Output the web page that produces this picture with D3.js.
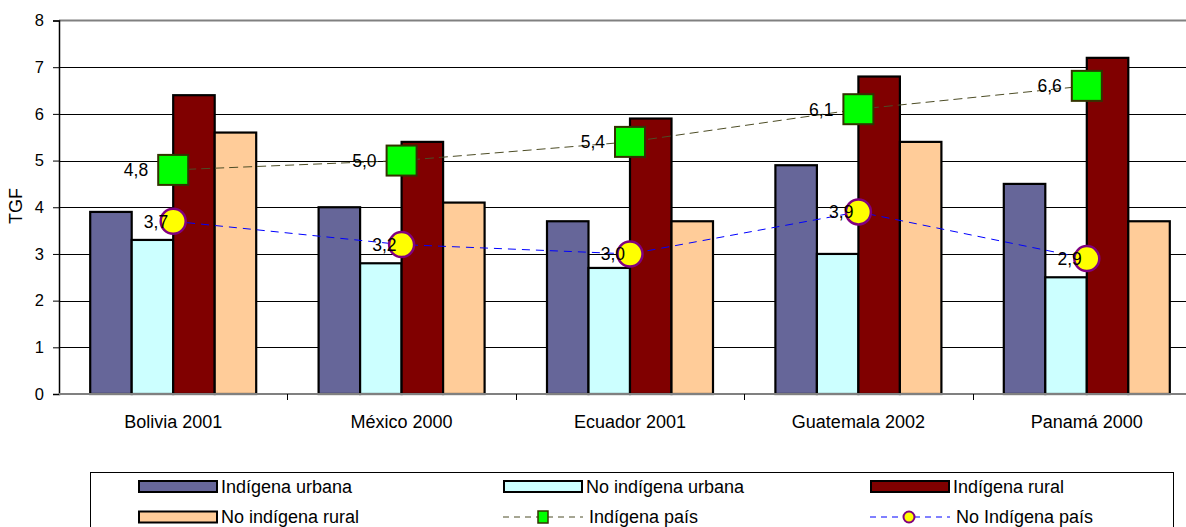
<!DOCTYPE html>
<html>
<head>
<meta charset="utf-8">
<script src="https://cdn.jsdelivr.net/npm/d3@7"></script>
<style>
  html, body { margin: 0; padding: 0; background: #fff; }
  svg { display: block; font-family: "Liberation Sans", Arial, sans-serif; }
</style>
</head>
<body>
<svg id="chart" width="1186" height="527"></svg>
<script>
// Tasa global de fecundidad (TGF) por país, condición étnica y área
const categories = ["Bolivia 2001", "México 2000", "Ecuador 2001", "Guatemala 2002", "Panamá 2000"];
const barSeries = ["Indígena urbana", "No indígena urbana", "Indígena rural", "No indígena rural"];
const indigenaUrbana   = [3.9, 4.0, 3.7, 4.9, 4.5];
const noIndigenaUrbana = [3.3, 2.8, 2.7, 3.0, 2.5];
const indigenaRural    = [6.4, 5.4, 5.9, 6.8, 7.2];
const noIndigenaRural  = [5.6, 4.1, 3.7, 5.4, 3.7];
const indigenaPais     = [4.8, 5.0, 5.4, 6.1, 6.6];
const noIndigenaPais   = [3.7, 3.2, 3.0, 3.9, 2.9];
const yTicks = [0, 1, 2, 3, 4, 5, 6, 7, 8];

const barValues = [indigenaUrbana, noIndigenaUrbana, indigenaRural, noIndigenaRural];
const barColors = ["#666699", "#CCFFFF", "#800000", "#FFCC99"];

const svg = d3.select("#chart");
const fmt = v => d3.format(".1f")(v).replace(".", ",");

// plot frame
const plotLeft = 59, plotTop = 20.5, plotBottom = 394, bandW = 228.4;
const x = d3.scaleBand().domain(categories).range([plotLeft, plotLeft + bandW * categories.length]).padding(0);
const groupPad = 31.2;
const x1 = d3.scaleBand().domain(barSeries).range([groupPad, x.bandwidth() - groupPad]).padding(0);
const y = d3.scaleLinear().domain([0, 8]).range([plotBottom, plotTop]);

// horizontal gridlines
svg.append("g").selectAll("line").data(yTicks.slice(1, -1)).join("line")
  .attr("x1", plotLeft).attr("x2", 1186)
  .attr("y1", d => Math.round(y(d)) + 0.5).attr("y2", d => Math.round(y(d)) + 0.5)
  .attr("stroke", "#000").attr("stroke-width", 1);

// top border of plot area
svg.append("line").attr("x1", plotLeft).attr("x2", 1186)
  .attr("y1", y(8)).attr("y2", y(8))
  .attr("stroke", "#808080").attr("stroke-width", 2);

// bars
const groups = svg.append("g").selectAll("g").data(categories).join("g")
  .attr("transform", d => `translate(${x(d)},0)`);
groups.selectAll("rect").data((c, i) => barSeries.map((s, j) => ({ s, v: barValues[j][i], j })))
  .join("rect")
  .attr("x", d => x1(d.s))
  .attr("width", x1.bandwidth())
  .attr("y", d => y(d.v))
  .attr("height", d => y(0) - y(d.v))
  .attr("fill", d => barColors[d.j])
  .attr("stroke", "#000").attr("stroke-width", 2.2);

// y axis
const yAxis = d3.axisLeft(y).tickValues(yTicks).tickSize(6).tickPadding(9).tickFormat(d3.format("d"));
const ya = svg.append("g").attr("transform", `translate(${plotLeft},0)`).call(yAxis);
ya.select(".domain").attr("stroke", "#000").attr("stroke-width", 1.5);
ya.selectAll(".tick line").attr("stroke", "#000");
ya.selectAll("text").attr("font-size", 16.5).attr("fill", "#000")
  .attr("font-family", "'Liberation Sans', Arial, sans-serif");

// x axis line and ticks between categories
svg.append("line").attr("x1", plotLeft).attr("x2", 1186)
  .attr("y1", plotBottom).attr("y2", plotBottom).attr("stroke", "#808080").attr("stroke-width", 2);
svg.append("g").selectAll("line").data(categories.slice(1)).join("line")
  .attr("x1", d => Math.round(x(d)) + 0.5).attr("x2", d => Math.round(x(d)) + 0.5)
  .attr("y1", plotBottom).attr("y2", plotBottom + 6)
  .attr("stroke", "#000").attr("stroke-width", 1);
svg.append("g").selectAll("text").data(categories).join("text")
  .attr("x", d => x(d) + x.bandwidth() / 2)
  .attr("y", 428)
  .attr("text-anchor", "middle")
  .attr("font-size", 18)
  .text(d => d);

// y axis title
svg.append("text")
  .attr("transform", "translate(22,206) rotate(-90)")
  .attr("text-anchor", "middle")
  .attr("font-size", 18)
  .text("TGF");

// line series
const cx = c => x(c) + x.bandwidth() / 2;
const line = vals => d3.line().x((d, i) => cx(categories[i])).y(d => y(d))(vals);

svg.append("path").attr("d", line(indigenaPais))
  .attr("fill", "none").attr("stroke", "#4d4d26").attr("stroke-width", 1)
  .attr("stroke-dasharray", "9,5");
svg.append("path").attr("d", line(noIndigenaPais))
  .attr("fill", "none").attr("stroke", "#0000FF").attr("stroke-width", 1)
  .attr("stroke-dasharray", "8,6");

// markers
svg.append("g").selectAll("rect").data(indigenaPais).join("rect")
  .attr("x", (d, i) => cx(categories[i]) - 15)
  .attr("y", d => y(d) - 15)
  .attr("width", 30).attr("height", 30)
  .attr("fill", "#00FF00").attr("stroke", "#333300").attr("stroke-width", 2);
svg.append("g").selectAll("circle").data(noIndigenaPais).join("circle")
  .attr("cx", (d, i) => cx(categories[i]))
  .attr("cy", d => y(d))
  .attr("r", 12.5)
  .attr("fill", "#FFFF00").attr("stroke", "#800080").attr("stroke-width", 2.5);

// data labels
svg.append("g").selectAll("text").data(indigenaPais).join("text")
  .attr("x", (d, i) => cx(categories[i]) - 25)
  .attr("y", d => y(d))
  .attr("dy", "0.36em")
  .attr("text-anchor", "end")
  .attr("font-size", 17.5)
  .text(fmt);
svg.append("g").selectAll("text").data(noIndigenaPais).join("text")
  .attr("x", (d, i) => cx(categories[i]) - 5)
  .attr("y", d => y(d))
  .attr("dy", "0.36em")
  .attr("text-anchor", "end")
  .attr("font-size", 17.5)
  .text(fmt);

// legend
svg.append("rect").attr("x", 90.5).attr("y", 472.5).attr("width", 1083).attr("height", 80)
  .attr("fill", "#fff").attr("stroke", "#000").attr("stroke-width", 1);

const legendItems = [
  { name: "Indígena urbana", type: "bar", color: barColors[0] },
  { name: "No indígena urbana", type: "bar", color: barColors[1] },
  { name: "Indígena rural", type: "bar", color: barColors[2] },
  { name: "No indígena rural", type: "bar", color: barColors[3] },
  { name: "Indígena país", type: "square" },
  { name: "No Indígena país", type: "circle" }
];
const colX = [138, 503, 870];
const rowY = [486.5, 517];
const swW = 80;

const li = svg.append("g").selectAll("g").data(legendItems).join("g")
  .attr("transform", (d, i) => `translate(${colX[i % 3]},${rowY[Math.floor(i / 3)]})`);

li.filter(d => d.type === "bar").append("rect")
  .attr("x", 1).attr("y", -5.5).attr("width", swW - 2).attr("height", 11)
  .attr("fill", d => d.color).attr("stroke", "#000").attr("stroke-width", 2);

li.filter(d => d.type !== "bar").append("line")
  .attr("x1", 0).attr("x2", swW).attr("y1", 0).attr("y2", 0)
  .attr("stroke", d => d.type === "square" ? "#4d4d26" : "#0000FF")
  .attr("stroke-width", 1).attr("stroke-dasharray", "6,5");

li.filter(d => d.type === "square").append("rect")
  .attr("x", swW / 2 - 5).attr("y", -6).attr("width", 10).attr("height", 12)
  .attr("fill", "#00FF00").attr("stroke", "#333300").attr("stroke-width", 1.5);

li.filter(d => d.type === "circle").append("circle")
  .attr("cx", swW / 2 - 1).attr("cy", 0).attr("r", 5.5)
  .attr("fill", "#FFFF00").attr("stroke", "#800080").attr("stroke-width", 2);

li.append("text")
  .attr("x", d => d.type === "bar" ? swW + 3 : swW + 6)
  .attr("y", 0).attr("dy", "0.35em")
  .attr("font-size", 18)
  .text(d => d.name);
</script>
</body>
</html>
